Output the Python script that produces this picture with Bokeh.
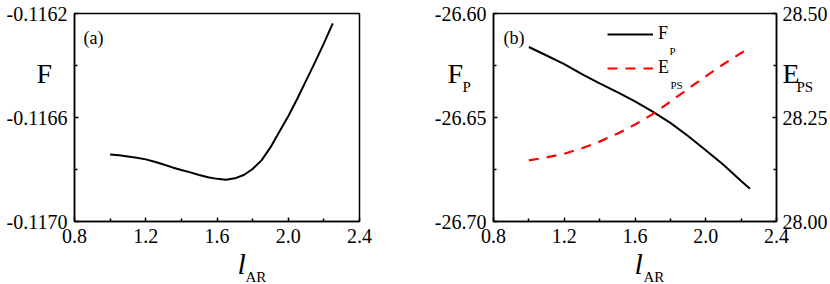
from bokeh.plotting import figure
from bokeh.layouts import row
from bokeh.models import Range1d, LinearAxis, FixedTicker, Label, Legend, LegendItem
from bokeh.core.properties import value
from bokeh.embed import file_html
from bokeh.resources import INLINE

FONT = "Liberation Serif"

# ---------------- data ----------------
# panel (a)
l_ar_a = [1.00, 1.05, 1.10, 1.15, 1.20, 1.25, 1.30, 1.35, 1.40, 1.45, 1.50, 1.55, 1.60,
          1.65, 1.70, 1.75, 1.80, 1.85, 1.90, 1.95, 2.00, 2.05, 2.10, 2.15, 2.20, 2.25]
F_a = [-0.116742, -0.116745, -0.116750, -0.116755, -0.116761, -0.116770, -0.116781,
       -0.116792, -0.116802, -0.116811, -0.116821, -0.116830, -0.116836, -0.116839,
       -0.116834, -0.116821, -0.116798, -0.116765, -0.116715, -0.116655, -0.116595,
       -0.116529, -0.116458, -0.116388, -0.116315, -0.116238]

# panel (b)
l_ar_b = [1.0, 1.1, 1.2, 1.3, 1.4, 1.5, 1.6, 1.7, 1.8, 1.9, 2.0, 2.1, 2.2, 2.25]
F_P = [-26.6161, -26.6202, -26.6243, -26.6292, -26.6336, -26.6378, -26.6422,
       -26.6472, -26.6526, -26.6589, -26.6657, -26.6727, -26.6805, -26.6843]
E_PS = [28.147, 28.154, 28.163, 28.176, 28.192, 28.211, 28.233,
        28.258, 28.288, 28.319, 28.349, 28.378, 28.405, 28.418]

# ticks
x_ticks = [0.8, 1.2, 1.6, 2.0, 2.4]
x_minor = [1.0, 1.4, 1.8, 2.2]
x_labels = ["0.8", "1.2", "1.6", "2.0", "2.4"]
ya_ticks = [-0.1170, -0.1166, -0.1162]
ya_minor = [-0.1168, -0.1164]
ya_labels = ["-0.1170", "-0.1166", "-0.1162"]
yb_ticks = [-26.70, -26.65, -26.60]
yb_minor = [-26.675, -26.625]
yb_labels = ["-26.70", "-26.65", "-26.60"]
yr_ticks = [28.00, 28.25, 28.50]
yr_minor = [28.125, 28.375]
yr_labels = ["28.00", "28.25", "28.50"]

FIG_W, FIG_H = 415, 284
MB_TOP, MB_BOTTOM = 13, 63
FRAME_H = FIG_H - MB_TOP - MB_BOTTOM


def style_axis(ax, ticks, minor, labels):
    ax.ticker = FixedTicker(ticks=ticks, minor_ticks=minor)
    ax.major_label_overrides = {t: s for t, s in zip(ticks, labels)}
    ax.major_label_text_font = FONT
    ax.major_label_text_font_size = "20px"
    ax.major_label_text_color = "black"
    ax.major_label_standoff = 7
    ax.axis_line_color = "black"
    ax.axis_line_width = 1.5
    ax.major_tick_line_color = "black"
    ax.minor_tick_line_color = "black"
    ax.major_tick_line_width = 1.5
    ax.minor_tick_line_width = 1.5
    ax.major_tick_in = 4
    ax.major_tick_out = 0
    ax.minor_tick_in = 3
    ax.minor_tick_out = 0


def lab(p, text, x, y, size):
    p.add_layout(Label(x=x, y=y, x_units="screen", y_units="screen", text=text,
                       text_font=FONT, text_font_size=size,
                       text_color="black", text_baseline="alphabetic",
                       text_align="left"))


def outer_text(p, frame_w, text, dx, dy, size, italic=False):
    """Text outside the frame; dx, dy = pixel offsets from frame bottom-left."""
    xr, yr = p.x_range, p.y_range
    xd = xr.start + dx * (xr.end - xr.start) / frame_w
    yd = yr.start + dy * (yr.end - yr.start) / FRAME_H
    p.text(x=[xd], y=[yd], text=[text], text_font=value(FONT),
           text_font_size=value(size),
           text_font_style="italic" if italic else "normal",
           text_color="black", text_baseline="alphabetic", text_align="left",
           level="overlay")


def base_fig(yr, ml, mr):
    p = figure(width=FIG_W, height=FIG_H, x_range=Range1d(0.8, 2.4), y_range=yr,
               output_backend="svg", toolbar_location=None,
               min_border_left=ml, min_border_right=mr,
               min_border_top=MB_TOP, min_border_bottom=MB_BOTTOM)
    p.xgrid.visible = False
    p.ygrid.visible = False
    p.outline_line_color = "black"
    p.outline_line_width = 1.5
    p.background_fill_color = "white"
    p.border_fill_color = "white"
    style_axis(p.xaxis[0], x_ticks, x_minor, x_labels)
    return p


# ---------------- panel (a) ----------------
ML_A, MR_A = 74, 56
FW_A = FIG_W - ML_A - MR_A
p1 = base_fig(Range1d(-0.1170, -0.1162), ML_A, MR_A)
style_axis(p1.yaxis[0], ya_ticks, ya_minor, ya_labels)
p1.line(l_ar_a, F_a, line_color="black", line_width=2)
lab(p1, "(a)", 9, 184, "18px")
outer_text(p1, FW_A, "F", -38, 148, "28px")
outer_text(p1, FW_A, "l", 163, -42, "30px", italic=True)
outer_text(p1, FW_A, "AR", 171, -55, "15px")

# ---------------- panel (b) ----------------
ML_B, MR_B = 78, 54
FW_B = FIG_W - ML_B - MR_B
p2 = base_fig(Range1d(-26.70, -26.60), ML_B, MR_B)
style_axis(p2.yaxis[0], yb_ticks, yb_minor, yb_labels)
p2.extra_y_ranges = {"eps": Range1d(28.0, 28.5)}
rax = LinearAxis(y_range_name="eps")
style_axis(rax, yr_ticks, yr_minor, yr_labels)
rax.major_label_standoff = 6
p2.add_layout(rax, "right")

r1 = p2.line(l_ar_b, F_P, line_color="black", line_width=2)
r2 = p2.line(l_ar_b, E_PS, y_range_name="eps", line_color="red", line_width=2.2,
             line_dash="10 8")

legend = Legend(items=[LegendItem(label="F", renderers=[r1]),
                       LegendItem(label="E", renderers=[r2])],
                location=(114, 143), glyph_width=46, glyph_height=20,
                label_height=20, label_standoff=5, spacing=13, padding=0, margin=0,
                border_line_color=None, background_fill_alpha=0,
                label_text_font=FONT, label_text_font_size="18px",
                label_text_color="black")
p2.add_layout(legend)

lab(p2, "(b)", 10, 184, "18px")
outer_text(p2, FW_B, "F", -46, 148, "28px")
outer_text(p2, FW_B, "P", -31, 135, "15px")
outer_text(p2, FW_B, "E", 289, 148, "28px")
outer_text(p2, FW_B, "PS", 303, 135, "15px")
outer_text(p2, FW_B, "l", 141, -42, "30px", italic=True)
outer_text(p2, FW_B, "AR", 150, -55, "15px")
lab(p2, "P", 176, 171, "11px")
lab(p2, "PS", 177, 137, "11px")

layout = row(p1, p2)
open("out.html", "w").write(file_html(layout, INLINE))
